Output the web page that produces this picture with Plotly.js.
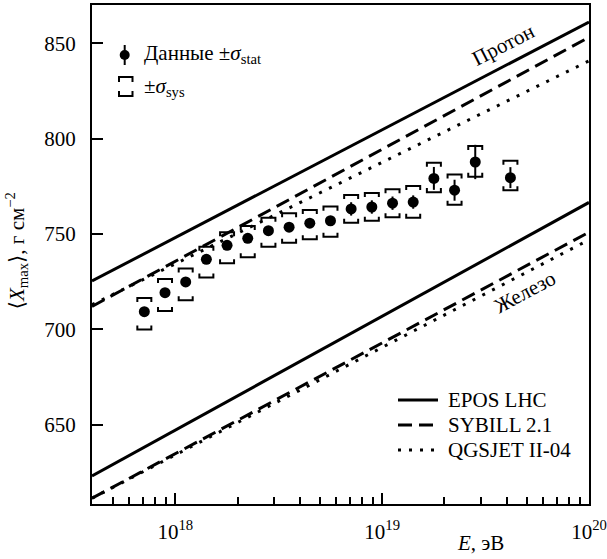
<!DOCTYPE html>
<html>
<head>
<meta charset="utf-8">
<script src="https://cdn.plot.ly/plotly-3.0.1.min.js"></script>
<style>
  html, body { margin: 0; padding: 0; background: #fff; }
  #chart { width: 607px; height: 559px; }
  #chart svg text { font-family: 'Liberation Serif', 'DejaVu Serif', serif !important; }
</style>
</head>
<body>
<div id="chart"></div>
<script>
// Mean depth of shower maximum vs primary energy
const logEnergy = [17.85, 17.95, 18.05, 18.15, 18.25, 18.35, 18.45, 18.55, 18.65,
                   18.75, 18.85, 18.95, 19.05, 19.15, 19.25, 19.35, 19.45, 19.62];
const xmaxMean  = [709.3, 719.3, 724.9, 736.8, 744.1, 747.8, 751.8, 753.6, 755.7,
                   757.0, 763.2, 764.2, 766.2, 766.8, 779.2, 773.0, 787.8, 779.6];
const statErr   = [2.0, 2.0, 2.0, 2.0, 2.0, 2.0, 2.0, 2.0, 2.0,
                   2.5, 3.5, 3.5, 3.5, 3.5, 6.0, 5.5, 9.0, 5.5];
const sysUp     = [7.2, 7.2, 7.0, 6.6, 6.9, 6.4, 6.8, 7.3, 6.9,
                   7.4, 7.3, 7.4, 7.3, 8.4, 8.2, 8.3, 8.4, 8.9];
const sysLow    = [9.3, 9.6, 9.6, 9.6, 9.4, 10.0, 8.4, 8.1, 8.4,
                   8.4, 7.2, 7.2, 7.4, 8.2, 7.2, 7.6, 7.7, 6.6];

// Model predictions (straight lines in log E), values at both ends of the axis
const modelLogE = [17.597, 20.0];
const eposProton   = [725.4, 861.2];
const sibyllProton = [712.1, 853.2];
const qgsjetProton = [713.0, 840.8];
const eposIron     = [623.2, 766.6];
const sibyllIron   = [611.5, 751.0];
const qgsjetIron   = [611.5, 747.0];
const modelNames = ['EPOS LHC', 'SYBILL 2.1', 'QGSJET II-04'];

// Axis ticks
const xMajorTicks = [1e18, 1e19, 1e20];
const xMajorText  = ['10<sup>18</sup>', '10<sup>19</sup>', '10<sup>20</sup>'];
const xMinorTicks = [5e17, 6e17, 7e17, 8e17, 9e17,
                     2e18, 3e18, 4e18, 5e18, 6e18, 7e18, 8e18, 9e18,
                     2e19, 3e19, 4e19, 5e19, 6e19, 7e19, 8e19, 9e19];
const yTicks = [650, 700, 750, 800, 850];

const FONT = 'Liberation Serif';
const BLACK = '#000';
const SOLID = 'solid', DASHED = '14px,7px', DOTTED = '3px,8px';

const energy = logEnergy.map(v => Math.pow(10, v));
const modelE = modelLogE.map(v => Math.pow(10, v));

// layout geometry (pixels)
const M = { l: 92, r: 18, t: 5, b: 55 };
const W = 607 - M.l - M.r, H = 559 - M.t - M.b;
const px = x => (x - M.l) / W;
const py = y => (559 - M.b - y) / H;

function modelTrace(y, dash) {
  return { x: modelE, y: y, mode: 'lines', showlegend: false, hoverinfo: 'skip',
           line: { color: BLACK, width: 3, dash: dash } };
}

// systematic-uncertainty brackets, drawn as short caps above and below each point
const halfW = Math.pow(10, 7 / 206.85);  // ~7 px half-width on the log axis
const leg = 2.1;                          // cap leg length in g/cm^2
const bx = [], by = [];
energy.forEach((e, i) => {
  const top = xmaxMean[i] + sysUp[i];
  const bot = xmaxMean[i] - sysLow[i];
  bx.push(e / halfW, e / halfW, e * halfW, e * halfW, null);
  by.push(top - leg, top, top, top - leg, null);
  bx.push(e / halfW, e / halfW, e * halfW, e * halfW, null);
  by.push(bot + leg, bot, bot, bot + leg, null);
});

const traces = [
  modelTrace(eposProton, SOLID),
  modelTrace(sibyllProton, DASHED),
  modelTrace(qgsjetProton, DOTTED),
  modelTrace(eposIron, SOLID),
  modelTrace(sibyllIron, DASHED),
  modelTrace(qgsjetIron, DOTTED),
  { x: bx, y: by, mode: 'lines', showlegend: false, hoverinfo: 'skip',
    line: { color: BLACK, width: 2 } },
  { x: energy, y: xmaxMean, mode: 'markers', showlegend: false,
    marker: { color: BLACK, size: 11 },
    error_y: { type: 'data', array: statErr, visible: true, color: BLACK, thickness: 2, width: 0 } }
];

const shapes = [];
const annotations = [];
const textFont = { family: FONT, size: 21, color: BLACK };

// model legend (lower right)
const legendRows = [400, 425, 450];
const legendDash = [SOLID, DASHED, DOTTED];
modelNames.forEach((name, i) => {
  shapes.push({ type: 'line', xref: 'paper', yref: 'paper',
                x0: px(398), x1: px(438), y0: py(legendRows[i]), y1: py(legendRows[i]),
                line: { color: BLACK, width: 3, dash: legendDash[i] } });
  annotations.push({ xref: 'paper', yref: 'paper', x: px(446), y: py(legendRows[i] - 0.5),
                     xanchor: 'left', yanchor: 'middle', showarrow: false, text: name,
                     font: textFont });
});

// data legend (upper left): filled point with stat bar, then bracket pair
shapes.push({ type: 'circle', xref: 'paper', yref: 'paper', fillcolor: BLACK,
              line: { color: BLACK, width: 0 },
              x0: px(119.7), x1: px(129.7), y0: py(50), y1: py(60) });
shapes.push({ type: 'line', xref: 'paper', yref: 'paper',
              x0: px(124.7), x1: px(124.7), y0: py(45), y1: py(65),
              line: { color: BLACK, width: 2 } });
shapes.push({ type: 'path', xref: 'paper', yref: 'paper', line: { color: BLACK, width: 2 },
              path: `M${px(119)},${py(82)} L${px(119)},${py(77)} L${px(132.5)},${py(77)} L${px(132.5)},${py(82)}` });
shapes.push({ type: 'path', xref: 'paper', yref: 'paper', line: { color: BLACK, width: 2 },
              path: `M${px(119)},${py(91)} L${px(119)},${py(96)} L${px(132.5)},${py(96)} L${px(132.5)},${py(91)}` });
annotations.push({ xref: 'paper', yref: 'paper', x: px(142), y: py(54), xanchor: 'left', yanchor: 'middle',
                   showarrow: false, text: 'Данные ±<i>σ</i><sub>stat</sub>', font: textFont });
annotations.push({ xref: 'paper', yref: 'paper', x: px(142), y: py(87), xanchor: 'left', yanchor: 'middle',
                   showarrow: false, text: '±<i>σ</i><sub>sys</sub>', font: textFont });

// curve family labels
annotations.push({ xref: 'paper', yref: 'paper', x: px(503), y: py(45), textangle: -27,
                   xanchor: 'center', yanchor: 'middle',
                   showarrow: false, text: 'Протон', font: textFont });
annotations.push({ xref: 'paper', yref: 'paper', x: px(525), y: py(292), textangle: -28,
                   xanchor: 'center', yanchor: 'middle',
                   showarrow: false, text: 'Железо', font: textFont });

// axis titles
annotations.push({ xref: 'paper', yref: 'paper', x: px(480), y: py(543), xanchor: 'center', yanchor: 'middle',
                   showarrow: false, text: '<i>E</i>, эВ', font: textFont });
annotations.push({ xref: 'paper', yref: 'paper', x: px(16), y: py(251), xanchor: 'center', yanchor: 'middle',
                   textangle: -90, showarrow: false,
                   text: '⟨<i>X</i><sub>max</sub>⟩, г см<sup>−2</sup>', font: textFont });

const layout = {
  width: 607, height: 559,
  margin: M,
  paper_bgcolor: '#fff', plot_bgcolor: '#fff',
  showlegend: false,
  font: textFont,
  xaxis: {
    type: 'log', range: [17.597, 20.0],
    showline: true, linecolor: BLACK, linewidth: 2, mirror: true,
    showgrid: false, zeroline: false,
    tickmode: 'array', tickvals: xMajorTicks, ticktext: xMajorText,
    ticks: 'inside', ticklen: 11, tickwidth: 2, tickcolor: BLACK,
    ticklabelstandoff: 8,
    tickfont: textFont,
    minor: { tickmode: 'array', tickvals: xMinorTicks, ticks: 'inside', ticklen: 7,
             tickwidth: 2, tickcolor: BLACK, showgrid: false }
  },
  yaxis: {
    range: [608.5, 870.1],
    showline: true, linecolor: BLACK, linewidth: 2, mirror: true,
    showgrid: false, zeroline: false,
    tickmode: 'array', tickvals: yTicks,
    ticks: 'inside', ticklen: 11, tickwidth: 2, tickcolor: BLACK,
    ticklabelstandoff: 10,
    tickfont: textFont
  },
  shapes: shapes,
  annotations: annotations
};

Plotly.newPlot('chart', traces, layout, { displayModeBar: false, staticPlot: true });
</script>
</body>
</html>
